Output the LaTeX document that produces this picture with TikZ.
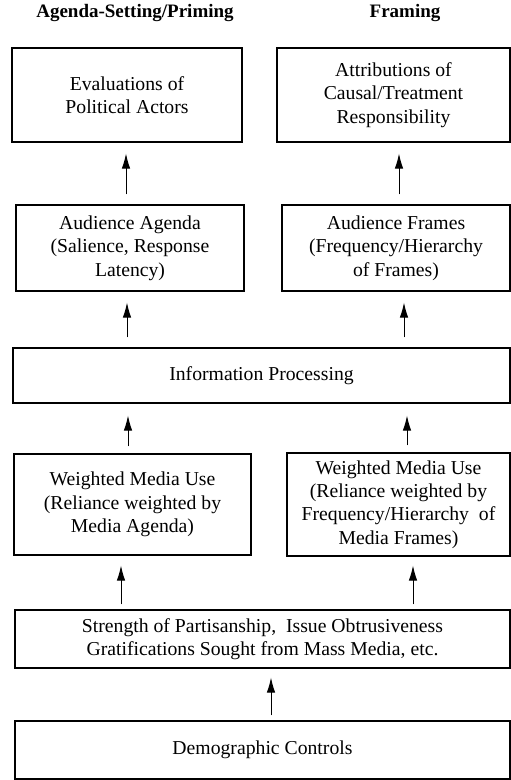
\documentclass[tikz,border=0pt]{standalone}
\usepackage{fontspec}
\setmainfont{Liberation Serif}
\usetikzlibrary{arrows.meta}

\begin{document}
\begin{tikzpicture}[x=1pt,y=1pt,yscale=-1,xscale=1,
   box/.style={draw, line width=1.1pt, inner sep=0pt, align=center, font=\fontsize{19.7}{23.3}\selectfont},
   head/.style={inner sep=0pt, font=\fontsize{19}{22}\selectfont\bfseries},
   up/.style={line width=1pt, shorten <=7pt, shorten >=10pt, -{Latex[length=15pt,width=8.5pt]}}]
   \useasboundingbox (0,0) rectangle (511,780);

   % Text Node
   \node (hasp) [head] at (135,13) {Agenda-Setting/Priming};
   % Text Node
   \node (hfrm) [head] at (405,13) {Framing};

   %Shape: Rectangle
   \node (eval) [box, minimum width=230, minimum height=94] at (127,95) {Evaluations of\\Political Actors};
   %Shape: Rectangle
   \node (attr) [box, minimum width=233, minimum height=94] at (393.5,95) {Attributions of\\Causal/Treatment\\Responsibility};
   %Shape: Rectangle
   \node (aud) [box, minimum width=228, minimum height=86] at (130,248) {Audience Agenda\\(Salience, Response\\Latency)};
   %Shape: Rectangle
   \node (frm) [box, minimum width=228, minimum height=86] at (396,248) {Audience Frames\\(Frequency/Hierarchy\\of Frames)};
   %Shape: Rectangle
   \node (info) [box, minimum width=497, minimum height=55] at (261.5,375.5) {Information Processing};
   %Shape: Rectangle
   \node (wmua) [box, minimum width=237, minimum height=101] at (132.5,504.5) {Weighted Media Use\\(Reliance weighted by\\Media Agenda)};
   %Shape: Rectangle
   \node (wmuf) [box, minimum width=223, minimum height=103] at (398.5,504.5) {Weighted Media Use\\(Reliance weighted by\\Frequency/Hierarchy~ of\\Media Frames)};
   %Shape: Rectangle
   \node (strg) [box, minimum width=495, minimum height=58] at (262.5,639) {Strength of Partisanship,~ Issue Obtrusiveness\\Gratifications Sought from Mass Media, etc.};
   %Shape: Rectangle
   \node (demo) [box, minimum width=495, minimum height=58] at (262.5,750) {Demographic Controls};

   %Straight Lines
   \draw [up, shorten <=10pt, shorten >=11pt] ([xshift=-1pt]aud.north -| eval.south) -- ([xshift=-1pt]eval.south);
   \draw [up, shorten <=10pt, shorten >=11pt] ([xshift=5.5pt]frm.north -| attr.south) -- ([xshift=5.5pt]attr.south);
   \draw [up, shorten <=10pt, shorten >=11pt] ([xshift=-3pt]info.north -| aud.south) -- ([xshift=-3pt]aud.south);
   \draw [up, shorten <=10pt, shorten >=11pt] ([xshift=8pt]info.north -| frm.south) -- ([xshift=8pt]frm.south);
   \draw [up, shorten >=12pt] ([xshift=-4.5pt]wmua.north) -- ([xshift=-4.5pt]wmua.north |- info.south);
   \draw [up, shorten >=12pt] ([xshift=8.5pt]wmuf.north) -- ([xshift=8.5pt]wmuf.north |- info.south);
   \draw [up, shorten <=5pt] ([xshift=-11.5pt]strg.north -| wmua.south) -- ([xshift=-11.5pt]wmua.south);
   \draw [up, shorten <=5pt, shorten >=9pt] ([xshift=14.5pt]strg.north -| wmuf.south) -- ([xshift=14.5pt]wmuf.south);
   \draw [up, shorten <=5pt, shorten >=9pt] ([xshift=8.5pt]demo.north) -- ([xshift=8.5pt]strg.south);

\end{tikzpicture}
\end{document}
